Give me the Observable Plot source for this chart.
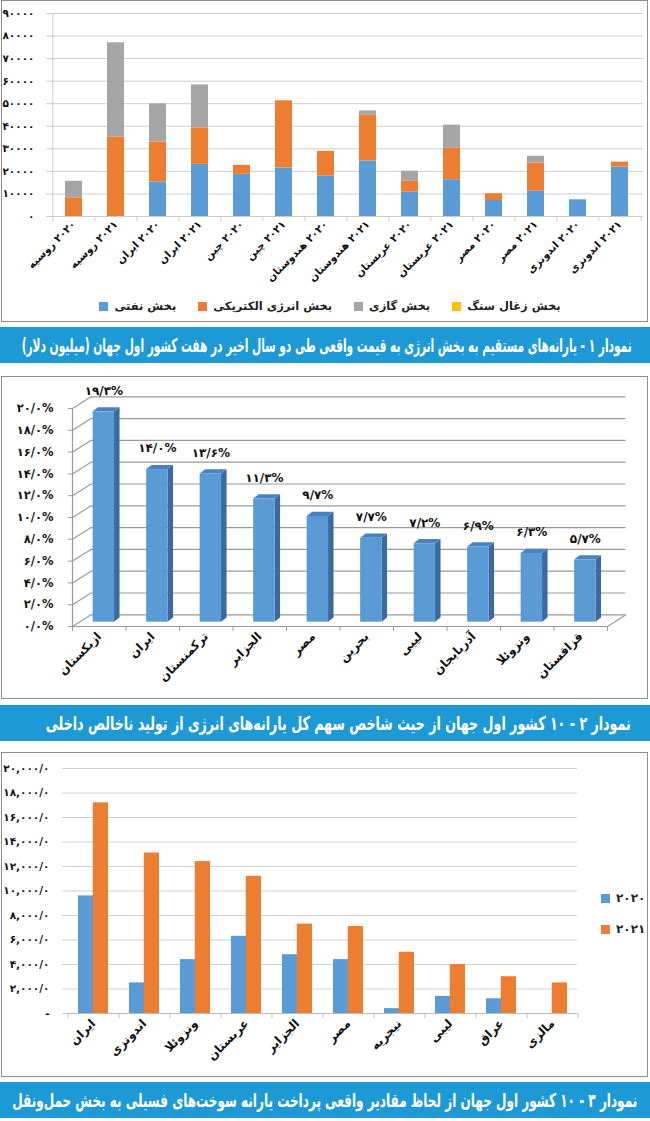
<!DOCTYPE html>
<html><head><meta charset="utf-8">
<script src="https://cdn.jsdelivr.net/npm/d3@7"></script>
<script src="https://cdn.jsdelivr.net/npm/@observablehq/plot@0.6"></script>
<style>
body{margin:0;width:650px;height:1121px;position:relative;background:#fff;font-family:"DejaVu Sans",sans-serif;overflow:hidden}
.panel{position:absolute;left:1px;width:647px;border:1.5px solid #8d8d8d;box-sizing:border-box}
.banner{position:absolute;left:0;width:650px;height:36px;background:#1d9ad6;color:#fff;font-weight:bold;overflow:hidden}
.banner span{position:absolute;top:0;line-height:36px;font-size:19px;white-space:nowrap;direction:rtl;transform-origin:right center;display:block}
.chart{position:absolute;left:0}
.chart svg{background:transparent;overflow:visible}
.legend{position:absolute;display:flex;font-weight:bold;font-size:11.5px;color:#222;direction:ltr}
.item{display:flex;align-items:center;gap:6px}
.sw{width:9px;height:9px;display:inline-block}
</style>
</head><body>
<div class="panel" style="top:0;height:322px"></div>
<div class="chart" id="c1" style="top:0"></div>
<div class="legend" id="lg1" style="top:299px;left:0;width:660px;justify-content:center;gap:22px"></div>
<div class="banner" id="b1" style="top:327px"><span style="right:18px">نمودار ۱ - یارانه‌های مستقیم به بخش انرژی به قیمت واقعی طی دو سال اخیر در هفت کشور اول جهان (میلیون دلار)</span></div>

<div class="panel" style="top:376px;height:323px"></div>
<div class="chart" id="c2" style="top:377px"></div>
<div class="banner" id="b2" style="top:705px"><span style="right:19px">نمودار ۲ - ۱۰ کشور اول جهان از حیث شاخص سهم کل یارانه‌های انرژی از تولید ناخالص داخلی</span></div>

<div class="panel" style="top:752px;height:325px"></div>
<div class="chart" id="c3" style="top:753px"></div>
<div class="legend" id="lg3" style="top:891px;left:601px;flex-direction:column;gap:17px;font-size:12px"></div>
<div class="banner" id="b3" style="top:1082px"><span style="right:13px">نمودار ۳ - ۱۰ کشور اول جهان از لحاظ مقادیر واقعی پرداخت یارانه سوخت‌های فسیلی به بخش حمل‌ونقل</span></div>

<script>
// ---------- Data: chart 1 ----------
const c1Labels = ["۲۰۲۰ روسیه","۲۰۲۱ روسیه","۲۰۲۰ ایران","۲۰۲۱ ایران","۲۰۲۰ چین","۲۰۲۱ چین","۲۰۲۰ هندوستان","۲۰۲۱ هندوستان","۲۰۲۰ عربستان","۲۰۲۱ عربستان","۲۰۲۰ مصر","۲۰۲۱ مصر","۲۰۲۰ اندونزی","۲۰۲۱ اندونزی"];
const oilSector = [0, 0, 15300, 23100, 18700, 21500, 17900, 24600, 10800, 16300, 7100, 11300, 7400, 21900];
const electricitySector = [8300, 35300, 17700, 16200, 4000, 29800, 11000, 20300, 5000, 14100, 3000, 12400, 0, 2200];
const gasSector = [7300, 41700, 16900, 19000, 0, 0, 0, 1900, 4300, 10100, 0, 3000, 0, 0];
const coalSector = [0, 0, 0, 0, 0, 0, 0, 0, 0, 0, 0, 0, 0, 0];
const c1Series = ["بخش نفتی","بخش انرژی الکتریکی","بخش گازی","بخش زغال سنگ"];
const c1Colors = ["#5b9bd5","#ed7d31","#a5a5a5","#ffc000"];
const c1Ticks = [0,10000,20000,30000,40000,50000,60000,70000,80000,90000];

// ---------- Data: chart 2 ----------
const c2Countries = ["ازبکستان","ایران","ترکمنستان","الجزایر","مصر","بحرین","لیبی","آذربایجان","ونزوئلا","قزاقستان"];
const c2Values = [19.3, 14.0, 13.6, 11.3, 9.7, 7.7, 7.2, 6.9, 6.3, 5.7];
const c2Ticks = [0,2,4,6,8,10,12,14,16,18,20];

// ---------- Data: chart 3 ----------
const c3Countries = ["ایران","اندونزی","ونزوئلا","عربستان","الجزایر","مصر","نیجریه","لیبی","عراق","مالزی"];
const c3Year2020 = [9600, 2500, 4400, 6300, 4800, 4400, 400, 1400, 1200, 0];
const c3Year2021 = [17200, 13100, 12400, 11200, 7300, 7100, 5000, 4000, 3000, 2500];
const c3Years = ["۲۰۲۰","۲۰۲۱"];
const c3Colors = ["#5b9bd5","#ed7d31"];
const c3Ticks = [0,2000,4000,6000,8000,10000,12000,14000,16000,18000,20000];

const fa = s => String(s).replace(/\d/g, d => "۰۱۲۳۴۵۶۷۸۹"[d]);
const rtl = s => "\u202B" + s + "\u202C";
const FONT = "DejaVu Sans";

// ---------- Chart 1 ----------
{
  const W = 648, H = 292, mL = 50, mR = 5, mT = 13, mB = 76;
  const step = (W - mL - mR) / c1Labels.length;
  const data = c1Labels.flatMap((c, i) =>
    [oilSector, electricitySector, gasSector, coalSector].map((arr, j) => ({category: c, series: c1Series[j], value: arr[i]})));
  const grid = "#cccccc";
  const chart = Plot.plot({
    width: W, height: H, marginLeft: mL, marginRight: mR, marginTop: mT, marginBottom: mB,
    style: {fontFamily: FONT, fontWeight: "bold", color: "#111", background: "transparent"},
    x: {domain: c1Labels, paddingInner: 0.6, paddingOuter: 0.3},
    y: {domain: [0, 90000]},
    color: {domain: c1Series, range: c1Colors},
    marks: [
      Plot.ruleY(c1Ticks, {stroke: grid, insetLeft: -4}),
      Plot.ruleX([c1Labels[0]], {y1: 0, y2: 90000, dx: -step / 2, stroke: grid}),
      Plot.ruleX(c1Labels, {y1: 0, y2: -2200, dx: -step / 2, stroke: grid}),
      Plot.ruleX([c1Labels[c1Labels.length - 1]], {y1: 0, y2: -2200, dx: step / 2, stroke: grid}),
      Plot.barY(data, {x: "category", y: "value", fill: "series"}),
      Plot.axisY({ticks: c1Ticks, tickFormat: d => fa(d), tickSize: 0, tickPadding: 16, fontSize: 10.5, label: null}),
      Plot.axisX({tickFormat: d => rtl(d), tickRotate: -45, tickSize: 0, tickPadding: 6, fontSize: 10.5, label: null})
    ]
  });
  document.getElementById("c1").append(chart);
  const lg = document.getElementById("lg1");
  c1Series.forEach((s, i) => {
    const it = document.createElement("div"); it.className = "item";
    it.innerHTML = `<span class="sw" style="background:${c1Colors[i]}"></span><span>${s}</span>`;
    lg.append(it);
  });
}

// ---------- Chart 2 (3D style columns) ----------
{
  const W = 648, H = 319, mL = 72, mR = 41, mT = 31, mB = 70;
  const n = c2Countries.length;
  const pxX = (W - mL - mR) / n, pxY = (H - mT - mB) / 20;
  const WX = 18.5 / pxX, WY = 11.7 / pxY;     // wall depth
  const BX = 4.6 / pxX, BY = 4.3 / pxY;       // bar front offset
  const DX = 5.5 / pxX, DY = 4.2 / pxY;       // bar depth
  const HW = 10.7 / pxX;                      // bar half width
  const data = c2Countries.map((c, i) => ({i, c, v: c2Values[i]}));
  const side = data.flatMap(d => [
    {i: d.i, x: d.i + BX + HW, y1: BY, y2: d.v + BY},
    {i: d.i, x: d.i + BX + HW + DX, y1: BY + DY, y2: d.v + BY + DY}]);
  const top = data.flatMap(d => [
    {i: d.i, y: d.v + BY, x1: d.i + BX - HW, x2: d.i + BX + HW},
    {i: d.i, y: d.v + BY + DY, x1: d.i + BX - HW + DX, x2: d.i + BX + HW + DX}]);
  const bounds = c2Countries.map((_, i) => i - 0.5).concat([n - 0.5]);
  const g = "#9a9a9a";
  const chart = Plot.plot({
    width: W, height: H, marginLeft: mL, marginRight: mR, marginTop: mT, marginBottom: mB,
    style: {fontFamily: FONT, fontWeight: "bold", color: "#111", background: "transparent"},
    x: {type: "linear", domain: [-0.5, n - 0.5]},
    y: {domain: [0, 20]},
    marks: [
      Plot.ruleY(c2Ticks, {y: d => d + WY, x1: -0.5 + WX, x2: n - 0.5 + WX, stroke: g, strokeWidth: 1.2}),
      Plot.link(c2Ticks, {x1: -0.5, y1: d => d, x2: -0.5 + WX, y2: d => d + WY, stroke: g, strokeWidth: 1.2}),
      Plot.ruleY(c2Ticks, {x1: -0.5 - 4 / pxX, x2: -0.5, stroke: g}),
      Plot.ruleX([-0.5], {y1: 0, y2: 20, stroke: g, strokeWidth: 1.2}),
      Plot.ruleY([0], {x1: -0.5, x2: n - 0.5, stroke: g, strokeWidth: 1.2}),
      Plot.link([0], {x1: n - 0.5, y1: 0, x2: n - 0.5 + WX, y2: WY, stroke: g, strokeWidth: 1.2}),
      Plot.ruleX(bounds, {y1: 0, y2: -5 / pxY, stroke: g}),
      Plot.areaY(side, {x: "x", y1: "y1", y2: "y2", z: "i", fill: "#3b6a9f"}),
      Plot.areaX(top, {y: "y", x1: "x1", x2: "x2", z: "i", fill: "#4a82bf"}),
      Plot.rect(data, {x1: d => d.i + BX - HW, x2: d => d.i + BX + HW, y1: BY, y2: d => d.v + BY, fill: "#5b9bd5"}),
      Plot.text(data, {x: d => d.i + BX, y: d => d.v + BY, dy: -21, text: d => fa(d.v.toFixed(1).replace(".", "/")) + "%", fontSize: 12, fill: "#111"}),
      Plot.axisY({ticks: c2Ticks, tickFormat: d => fa(d.toFixed(1).replace(".", "/")) + "%", tickSize: 0, tickPadding: 19, fontSize: 11.5, label: null}),
      Plot.axisX({ticks: c2Countries.map((_, i) => i), tickFormat: i => c2Countries[i], tickRotate: -45, tickSize: 0, tickPadding: 8, fontSize: 12, label: null})
    ]
  });
  document.getElementById("c2").append(chart);
}

// ---------- Chart 3 ----------
{
  const W = 648, H = 320, mL = 67, mR = 71, mT = 15, mB = 60;
  const n = c3Countries.length;
  const step = (W - mL - mR) / n;
  const pIn = 0.42;
  const half = step * (1 - pIn) / 2;
  const d20 = c3Countries.map((c, i) => ({c, v: c3Year2020[i]}));
  const d21 = c3Countries.map((c, i) => ({c, v: c3Year2021[i]}));
  const grid = "#d0d0d0";
  const chart = Plot.plot({
    width: W, height: H, marginLeft: mL, marginRight: mR, marginTop: mT, marginBottom: mB,
    style: {fontFamily: FONT, fontWeight: "bold", color: "#111", background: "transparent"},
    x: {domain: c3Countries, paddingInner: pIn, paddingOuter: pIn / 2},
    y: {domain: [0, 20000]},
    marks: [
      Plot.ruleY(c3Ticks, {stroke: grid, insetLeft: -5}),
      Plot.ruleX(c3Countries, {y1: 0, y2: -400, dx: -step / 2, stroke: "#bbb"}),
      Plot.ruleX([c3Countries[n - 1]], {y1: 0, y2: -400, dx: step / 2, stroke: "#bbb"}),
      Plot.ruleY([0], {stroke: "#bbb"}),
      Plot.barY(d20, {x: "c", y: "v", fill: c3Colors[0], insetRight: half}),
      Plot.barY(d21, {x: "c", y: "v", fill: c3Colors[1], insetLeft: half}),
      Plot.axisY({ticks: c3Ticks, tickFormat: d => d === 0 ? "-" : fa(d3.format(",")(d)) + "/۰", tickSize: 0, tickPadding: 18, fontSize: 10.5, label: null}),
      Plot.axisX({tickRotate: -45, tickSize: 0, tickPadding: 8, fontSize: 12, label: null})
    ]
  });
  document.getElementById("c3").append(chart);
  const lg = document.getElementById("lg3");
  c3Years.forEach((s, i) => {
    const it = document.createElement("div"); it.className = "item";
    it.innerHTML = `<span class="sw" style="background:${c3Colors[i]}"></span><span>${s}</span>`;
    lg.append(it);
  });
}

// ---------- fit banner texts ----------
[["b1", 22, 632], ["b2", 46, 631], ["b3", 12, 637]].forEach(([id, l, r]) => {
  const span = document.querySelector("#" + id + " span");
  const w = span.getBoundingClientRect().width;
  span.style.transform = `scaleX(${(r - l) / w})`;
});
</script>
</body></html>
